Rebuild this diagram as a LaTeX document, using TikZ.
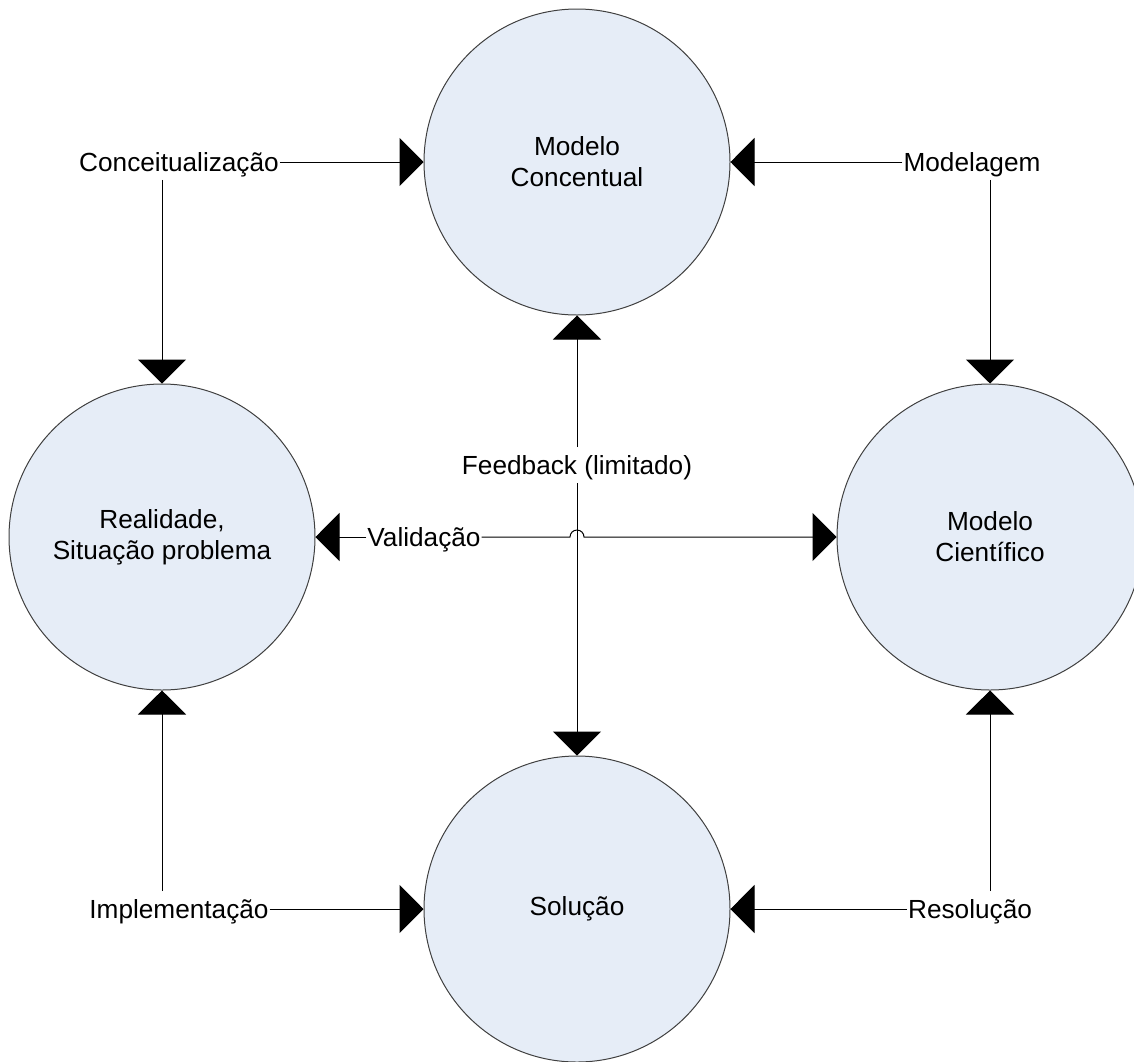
\documentclass[tikz,border=0pt]{standalone}
\usepackage{fontspec}
\setmainfont{Liberation Sans}
\usetikzlibrary{arrows.meta,positioning,calc}
\definecolor{stagefill}{RGB}{230,237,247}

\begin{document}
\begin{tikzpicture}[->,>={Triangle[length=12pt,width=24pt]},on grid,
	font=\fontsize{13.1}{15.5}\selectfont,line width=0.5pt,
	main node/.style={circle,draw=black!75,fill=stagefill,minimum size=153pt,
		inner sep=0pt,align=center,line width=0.5pt},
	link node/.style={inner xsep=0.3pt,inner ysep=4pt,text depth=0pt}]
\useasboundingbox (0,0) rectangle (567pt,-530.5pt);
\node[main node] (mc) at (288.5pt,-81pt) {Modelo\\Concentual};
\node[main node] (real) [below left=187.5pt and 207.5pt of mc] {Realidade,\\Situação problema};
\node[main node] (sci) [below right=187.5pt and 206.5pt of mc] {Modelo\\Científico};
\node[main node] (sol) [below=373.5pt of mc] {Solução};
\node[link node] (conc) at ($(real |- mc)+(8.5pt,0)$) {Conceitualização};
\node[link node] (mod) at ($(sci |- mc)+(-9pt,0)$) {Modelagem};
\node[link node] (impl) at ($(real |- sol)+(8.5pt,0)$) {Implementação};
\node[link node] (res) at ($(sci |- sol)+(-10pt,0)$) {Resolução};
\node[link node] (val) at ($(real)+(131pt,0)$) {Validação};
\node[link node] (fb) at ($(mc |- real)+(0,36pt)$) {Feedback (limitado)};
\path
	(conc) edge (mc)
	(mod) edge (mc)
	(impl) edge (sol)
	(res) edge (sol)
	(fb) edge (mc)
	     edge (sol)
	(val) edge (real);
\draw (conc.south -| real) -- (real);
\draw (mod.south -| sci) -- (sci);
\draw (impl.north -| real) -- (real);
\draw (res.north -| sci) -- (sci);
% jump over the feedback line
\draw (val.east) -- ($(val.east -| fb)+(-3.5pt,0)$)
	arc[start angle=180,end angle=0,radius=3.5pt] -- (sci);
\end{tikzpicture}
\end{document}
